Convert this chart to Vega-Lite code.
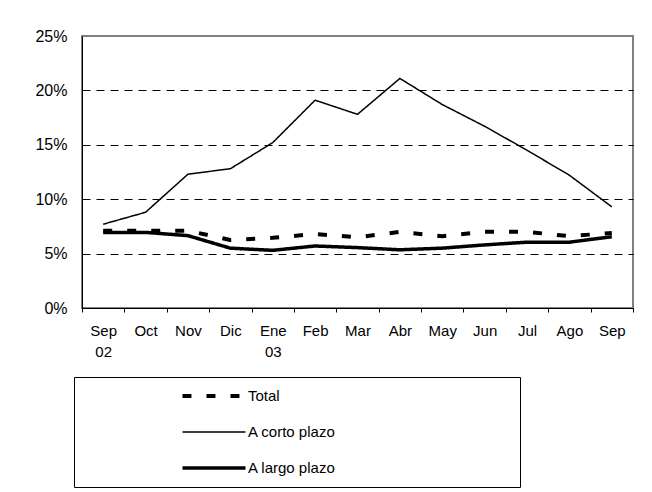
{
  "$schema": "https://vega.github.io/schema/vega-lite/v6.json",
  "width": 551,
  "height": 272,
  "autosize": {"type": "none"},
  "padding": {"left": 82, "top": 36, "right": 19, "bottom": 184},
  "background": "white",
  "data": {
    "values": [
      {"mes": "Sep 02", "serie": "Total", "valor": 0.071},
      {"mes": "Oct", "serie": "Total", "valor": 0.071},
      {"mes": "Nov", "serie": "Total", "valor": 0.071},
      {"mes": "Dic", "serie": "Total", "valor": 0.0625},
      {"mes": "Ene 03", "serie": "Total", "valor": 0.0645},
      {"mes": "Feb", "serie": "Total", "valor": 0.068},
      {"mes": "Mar", "serie": "Total", "valor": 0.065},
      {"mes": "Abr", "serie": "Total", "valor": 0.07},
      {"mes": "May", "serie": "Total", "valor": 0.066},
      {"mes": "Jun", "serie": "Total", "valor": 0.07},
      {"mes": "Jul", "serie": "Total", "valor": 0.07},
      {"mes": "Ago", "serie": "Total", "valor": 0.066},
      {"mes": "Sep 03", "serie": "Total", "valor": 0.069},
      {"mes": "Sep 02", "serie": "A corto plazo", "valor": 0.077},
      {"mes": "Oct", "serie": "A corto plazo", "valor": 0.088},
      {"mes": "Nov", "serie": "A corto plazo", "valor": 0.123},
      {"mes": "Dic", "serie": "A corto plazo", "valor": 0.128},
      {"mes": "Ene 03", "serie": "A corto plazo", "valor": 0.152},
      {"mes": "Feb", "serie": "A corto plazo", "valor": 0.191},
      {"mes": "Mar", "serie": "A corto plazo", "valor": 0.178},
      {"mes": "Abr", "serie": "A corto plazo", "valor": 0.211},
      {"mes": "May", "serie": "A corto plazo", "valor": 0.187},
      {"mes": "Jun", "serie": "A corto plazo", "valor": 0.167},
      {"mes": "Jul", "serie": "A corto plazo", "valor": 0.145},
      {"mes": "Ago", "serie": "A corto plazo", "valor": 0.122},
      {"mes": "Sep 03", "serie": "A corto plazo", "valor": 0.093},
      {"mes": "Sep 02", "serie": "A largo plazo", "valor": 0.0695},
      {"mes": "Oct", "serie": "A largo plazo", "valor": 0.0695},
      {"mes": "Nov", "serie": "A largo plazo", "valor": 0.0665},
      {"mes": "Dic", "serie": "A largo plazo", "valor": 0.055},
      {"mes": "Ene 03", "serie": "A largo plazo", "valor": 0.053},
      {"mes": "Feb", "serie": "A largo plazo", "valor": 0.057},
      {"mes": "Mar", "serie": "A largo plazo", "valor": 0.0555},
      {"mes": "Abr", "serie": "A largo plazo", "valor": 0.0535},
      {"mes": "May", "serie": "A largo plazo", "valor": 0.055},
      {"mes": "Jun", "serie": "A largo plazo", "valor": 0.058},
      {"mes": "Jul", "serie": "A largo plazo", "valor": 0.0605},
      {"mes": "Ago", "serie": "A largo plazo", "valor": 0.0605},
      {"mes": "Sep 03", "serie": "A largo plazo", "valor": 0.0655}
    ]
  },
  "mark": {"type": "line", "color": "black", "strokeCap": "butt", "strokeJoin": "round"},
  "encoding": {
    "x": {
      "field": "mes",
      "type": "ordinal",
      "sort": null,
      "bandPosition": 0.5,
      "scale": {"type": "band", "paddingInner": 0, "paddingOuter": 0},
      "axis": {
        "title": null,
        "labelAngle": 0,
        "tickBand": "extent",
        "tickSize": 4,
        "tickColor": "black",
        "domainColor": "black",
        "labelPadding": 11,
        "labelFontSize": 15,
        "labelFont": "Liberation Sans",
        "labelColor": "black",
        "labelLineHeight": 21,
        "labelBaseline": "top",
        "labelExpr": "!datum.value ? '' : (datum.value == 'Sep 03' ? 'Sep' : split(datum.value, ' '))"
      }
    },
    "y": {
      "field": "valor",
      "type": "quantitative",
      "scale": {"domain": [0, 0.25], "nice": false},
      "axis": {
        "title": null,
        "values": [0, 0.05, 0.1, 0.15, 0.2, 0.25],
        "format": ".0%",
        "ticks": false,
        "labelPadding": 15,
        "labelFontSize": 16,
        "labelFont": "Liberation Sans",
        "labelColor": "black",
        "domainColor": "black",
        "grid": true,
        "gridColor": "black",
        "gridDash": [8, 6],
        "gridWidth": 1,
        "gridOpacity": {"condition": {"test": "datum.value > 0 && datum.value < 0.25", "value": 1}, "value": 0}
      }
    },
    "detail": {"field": "serie"},
    "strokeDash": {
      "field": "serie",
      "type": "nominal",
      "scale": {"domain": ["Total", "A corto plazo", "A largo plazo"], "range": [[9, 15], [1, 0], [1, 0]]},
      "legend": {
        "orient": "none",
        "legendX": -8,
        "legendY": 341,
        "symbolType": "stroke",
        "symbolSize": 3970,
        "symbolStrokeColor": "black",
        "clipHeight": 16,
        "rowPadding": 20,
        "padding": 11,
        "strokeColor": "black",
        "fillColor": "white",
        "symbolOffset": 95,
        "labelOffset": 0,
        "labelFontSize": 15,
        "labelFont": "Liberation Sans",
        "labelColor": "black",
        "title": "\u00a0",
        "titleOrient": "right",
        "titlePadding": 173
      }
    },
    "strokeWidth": {
      "field": "serie",
      "type": "nominal",
      "scale": {"type": "ordinal", "domain": ["Total", "A corto plazo", "A largo plazo"], "range": [4, 1.5, 3.5]},
      "legend": null
    }
  },
  "config": {
    "view": {"stroke": "#808080", "strokeWidth": 2}
  }
}
